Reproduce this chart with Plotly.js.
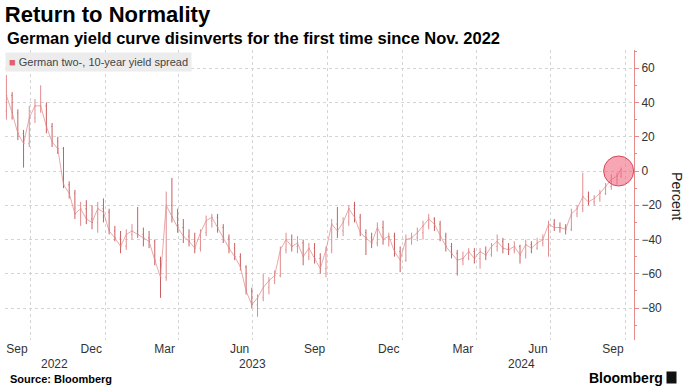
<!DOCTYPE html>
<html><head><meta charset="utf-8">
<script src="https://cdn.plot.ly/plotly-3.0.1.min.js"></script>
<style>html,body{margin:0;padding:0;background:#fff}#chart{width:686px;height:392px}</style>
</head><body><div id="chart"></div>
<script>
// Weekly summary of German 2s10s spread (bp)
const weekDates = [
'2022-09-02','2022-09-09','2022-09-16','2022-09-23','2022-09-30','2022-10-07','2022-10-14','2022-10-21','2022-10-28','2022-11-04',
'2022-11-11','2022-11-18','2022-11-25','2022-12-02','2022-12-09','2022-12-16','2022-12-23','2022-12-30','2023-01-06','2023-01-13',
'2023-01-20','2023-01-27','2023-02-03','2023-02-10','2023-02-17','2023-02-24','2023-03-03','2023-03-10','2023-03-17','2023-03-24',
'2023-03-31','2023-04-07','2023-04-14','2023-04-21','2023-04-28','2023-05-05','2023-05-12','2023-05-19','2023-05-26','2023-06-02',
'2023-06-09','2023-06-16','2023-06-23','2023-06-30','2023-07-07','2023-07-14','2023-07-21','2023-07-28','2023-08-04','2023-08-11',
'2023-08-18','2023-08-25','2023-09-01','2023-09-08','2023-09-15','2023-09-22','2023-09-29','2023-10-06','2023-10-13','2023-10-20',
'2023-10-27','2023-11-03','2023-11-10','2023-11-17','2023-11-24','2023-12-01','2023-12-08','2023-12-15','2023-12-22','2023-12-29',
'2024-01-05','2024-01-12','2024-01-19','2024-01-26','2024-02-02','2024-02-09','2024-02-16','2024-02-23','2024-03-01','2024-03-08',
'2024-03-15','2024-03-22','2024-03-29','2024-04-05','2024-04-12','2024-04-19','2024-04-26','2024-05-03','2024-05-10','2024-05-17',
'2024-05-24','2024-05-31','2024-06-07','2024-06-14','2024-06-21','2024-06-28','2024-07-05','2024-07-12','2024-07-19','2024-07-26',
'2024-08-02','2024-08-09','2024-08-16','2024-08-23','2024-08-30','2024-09-06','2024-09-13','2024-09-20','2024-09-25'];

const spreadOpen = [35,44,34,22,16,31,38,38,26,17, 13,-8,-13,-25,-22,-28,-30,-22,-24,-35, -39,-44,-37,-35,-37,-39,-41,-52,-62,-20,
 -27,-33,-38,-41,-45,-36,-29,-27,-33,-39, -45,-50,-56,-70,-78,-74,-68,-64,-61,-46, -40,-44,-42,-50,-45,-51,-57,-46,-31,-35,
 -30,-22,-27,-36,-39,-42,-33,-40,-38,-47, -52,-40,-39,-36,-32,-28,-31,-38,-44,-48, -52,-51,-47,-51,-47,-49,-44,-41,-45,-46,
 -44,-49,-43,-45,-42,-40,-31,-33,-33,-34, -25,-22,-15,-18,-16,-13,-9,-5,-3];
const spreadHigh = [56,46,36,24,38,42,50,40,28,20, 14,-6,-11,-18,-17,-20,-18,-16,-22,-32, -35,-34,-31,-21,-33,-35,-40,-50,-12,-4,
 -22,-28,-34,-36,-34,-26,-25,-25,-31,-37, -42,-48,-55,-68,-72,-60,-62,-58,-44,-36, -37,-38,-40,-42,-42,-48,-44,-28,-21,-27,
 -20,-18,-25,-34,-36,-30,-29,-36,-36,-44, -37,-36,-33,-29,-25,-27,-29,-36,-42,-46, -47,-45,-45,-45,-44,-42,-37,-39,-42,-41,
 -43,-40,-41,-39,-37,-29,-28,-30,-31,-22, -20,-1,-12,-14,-11,-7,-2,-1,2];
const spreadLow = [30,30,18,2,14,28,34,22,14,10, -10,-16,-28,-32,-31,-34,-36,-30,-37,-41, -48,-46,-40,-39,-44,-45,-55,-74,-64,-30,
 -36,-42,-44,-48,-47,-38,-33,-36,-42,-48, -52,-58,-72,-80,-85,-76,-72,-66,-62,-48, -47,-48,-55,-52,-54,-60,-62,-48,-39,-38,
 -32,-30,-38,-49,-45,-44,-43,-44,-50,-59, -53,-43,-41,-40,-34,-35,-41,-47,-51,-61, -55,-52,-54,-57,-52,-50,-47,-48,-49,-48,
 -54,-51,-48,-46,-44,-50,-35,-36,-37,-35, -27,-24,-20,-20,-18,-14,-11,-8,-4];
const spreadClose = [44,34,22,16,31,38,38,26,17,13, -8,-13,-25,-22,-28,-30,-22,-24,-35,-39, -44,-37,-35,-37,-39,-41,-52,-62,-20,-27,
 -33,-38,-41,-45,-36,-29,-27,-33,-39,-45, -50,-56,-70,-78,-74,-68,-64,-61,-46,-40, -44,-42,-50,-45,-51,-57,-46,-31,-35,-30,
 -22,-27,-36,-39,-42,-33,-40,-38,-47,-52, -40,-39,-36,-32,-28,-31,-38,-44,-48,-52, -51,-47,-51,-47,-49,-44,-41,-45,-46,-44,
 -49,-43,-45,-42,-40,-31,-33,-33,-34,-25, -22,-15,-18,-16,-13,-9,-5,-3,1];

const highlightDate = ['2024-09-22'];
const highlightValue = [0];

const monthTickDates = ['2022-09-15','2022-12-15','2023-03-15','2023-06-15','2023-09-15','2023-12-15','2024-03-15','2024-06-15','2024-09-15'];
const monthTickLabels = ['Sep','Dec','Mar','Jun','Sep','Dec','Mar','Jun','Sep'];
const quarterGridDates = ['2022-10-01','2023-01-01','2023-04-01','2023-07-01','2023-10-01','2024-01-01','2024-04-01','2024-07-01','2024-10-01'];
const yearLabels = ['2022','2023','2024'];
const yearLabelDates = ['2022-10-31','2023-07-01','2024-05-26'];

const seriesName = 'German two-, 10-year yield spread';

const FONT = 'Liberation Sans, Arial, sans-serif';
const traces = [
  {
    type: 'scatter', mode: 'lines', x: weekDates, y: spreadClose,
    line: {color: 'rgba(226,140,142,0.75)', width: 1}, hoverinfo: 'skip', showlegend: false
  },
  {
    type: 'ohlc', x: weekDates, open: spreadOpen, high: spreadHigh, low: spreadLow, close: spreadClose,
    increasing: {line: {color: '#e08c8e', width: 1}},
    decreasing: {line: {color: '#c95e60', width: 1}},
    tickwidth: 0.2, hoverinfo: 'skip', showlegend: false
  },
  {
    type: 'scatter', mode: 'markers', x: highlightDate, y: highlightValue,
    marker: {size: 30, color: 'rgba(241,92,118,0.55)', line: {color: '#d2485c', width: 1}},
    hoverinfo: 'skip', showlegend: false
  }
];

const annotations = [
  {xref:'paper', yref:'paper', x:0, y:1.041, xanchor:'left', yanchor:'middle', showarrow:false,
   text:'<b>German yield curve disinverts for the first time since Nov. 2022</b>', font:{family:FONT, size:16.5, color:'#000'}},
  {xref:'paper', yref:'paper', x:0, y:0.993, xanchor:'left', yanchor:'top', showarrow:false,
   text:'<span style="color:#e06266">■</span> ' + seriesName, bgcolor:'#ececec', borderpad:3,
   font:{family:FONT, size:11, color:'#444'}},
  {xref:'paper', yref:'paper', x:1.068, y:0.497, xanchor:'center', yanchor:'middle', showarrow:false, textangle:90,
   text:'Percent', font:{family:FONT, size:14, color:'#222'}},
  {xref:'paper', yref:'paper', x:0.005, y:-0.134, xanchor:'left', yanchor:'middle', showarrow:false,
   text:'<b>Source: Bloomberg</b>', font:{family:FONT, size:11, color:'#000'}},
  {xref:'paper', yref:'paper', x:1.049, y:-0.131, xanchor:'right', yanchor:'middle', showarrow:false,
   text:'<b>Bloomberg</b>', font:{family:FONT, size:14, color:'#000'}},
  {xref:'paper', yref:'paper', x:1.060, y:-0.131, xanchor:'center', yanchor:'middle', showarrow:false,
   text:'&nbsp;', bgcolor:'#111', width:9, height:11, borderpad:0, font:{size:9}}
];
yearLabels.forEach((t, i) => annotations.push({
  xref:'x', yref:'paper', x: yearLabelDates[i], y:-0.083, xanchor:'center', yanchor:'middle', showarrow:false,
  text:t, font:{family:FONT, size:12, color:'#333'}
}));

const layout = {
  width: 686, height: 392,
  margin: {l: 5, r: 52, t: 50, b: 52},
  paper_bgcolor: '#fff', plot_bgcolor: '#fff',
  title: {text: '<b>Return to Normality</b>', font: {family: FONT, size: 22, color: '#000'},
          xref: 'container', yref: 'container', x: 0.007, xanchor: 'left', y: 0.963, yanchor: 'middle'},
  showlegend: false,
  xaxis: {
    type: 'date', range: ['2022-08-31 06:00', '2024-10-10 20:00'],
    rangeslider: {visible: false}, fixedrange: true,
    tickmode: 'array', tickvals: monthTickDates, ticktext: monthTickLabels,
    showgrid: false, ticks: '', showline: false, zeroline: false,
    tickfont: {family: FONT, size: 12, color: '#333'},
    minor: {tickmode: 'array', tickvals: quarterGridDates, showgrid: true, gridcolor: '#d4d4d4', griddash: 'dot', gridwidth: 1, ticks: ''}
  },
  yaxis: {
    side: 'right', range: [-98.6, 70.6], fixedrange: true,
    tickmode: 'array', tickvals: [-80,-60,-40,-20,0,20,40,60],
    showgrid: true, gridcolor: '#d4d4d4', griddash: 'dot', gridwidth: 1, zeroline: false,
    showline: true, linecolor: '#e58a8a', linewidth: 1,
    ticks: 'outside', ticklen: 4, tickcolor: '#e58a8a', tickwidth: 1,
    minor: {dtick: 10, tick0: 0, ticks: 'outside', ticklen: 2, tickcolor: '#e58a8a', showgrid: false},
    tickfont: {family: FONT, size: 12, color: '#333'}
  },
  annotations: annotations
};

Plotly.newPlot('chart', traces, layout, {staticPlot: true, displayModeBar: false});
</script></body></html>
